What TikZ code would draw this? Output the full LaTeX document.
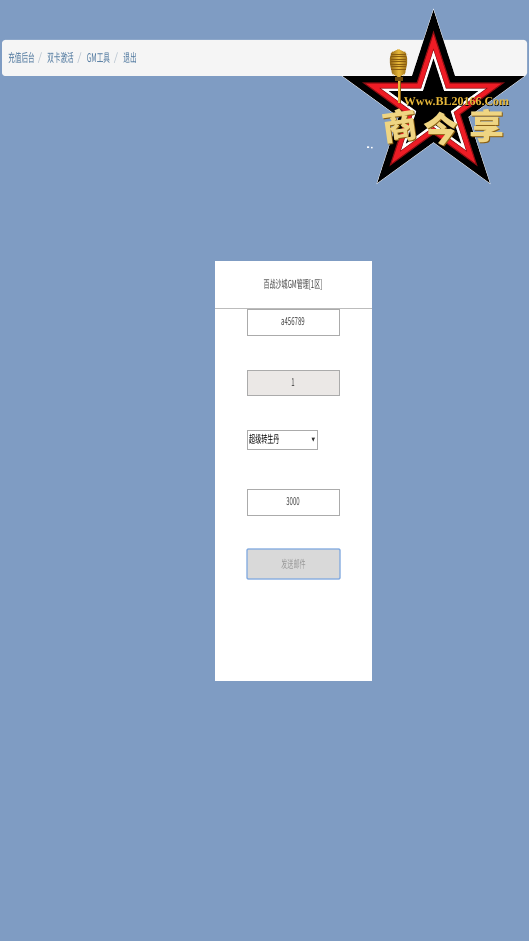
\documentclass[tikz,border=0pt]{standalone}
\usepackage{graphicx}
\usepackage{fontspec}
\setmainfont{Noto Sans CJK SC}
\newfontfamily\logofont{Liberation Serif}[BoldFont={Liberation Serif Bold}]
\usetikzlibrary{shadings,calc}
\definecolor{bgblue}{HTML}{7F9CC3}
\definecolor{barbg}{HTML}{F5F5F5}
\definecolor{linkc}{HTML}{4A749C}
\definecolor{sepc}{HTML}{B5C2CF}
\definecolor{fieldb}{HTML}{ABABAB}
\definecolor{txtc}{HTML}{444444}
\definecolor{gold}{HTML}{EFD582}
\definecolor{goldm}{HTML}{E8B93A}
\definecolor{goldd}{HTML}{8A5E10}
\definecolor{starred}{HTML}{EE1C25}
\definecolor{stardred}{HTML}{8E0E12}
\newcommand{\narrow}[2][0.55]{\scalebox{#1}[1]{#2}}
% five-pointed star of radius #2 about the star centre, fill #1 (y axis points down)
\newcommand{\logostar}[2]{%
  \fill[#1] ($(sc)+(-90:#2)$) -- ($(sc)+(-126:#2*0.382)$) -- ($(sc)+(-162:#2)$) -- ($(sc)+(-198:#2*0.382)$) -- ($(sc)+(-234:#2)$) -- ($(sc)+(-270:#2*0.382)$) -- ($(sc)+(-306:#2)$) -- ($(sc)+(-342:#2*0.382)$) -- ($(sc)+(-18:#2)$) -- ($(sc)+(-54:#2*0.382)$) -- cycle;}
\tikzset{
  crumb/.style={text=linkc,font=\fontsize{12}{12}\selectfont,inner sep=0pt,anchor=center},
  crumbsep/.style={text=sepc,font=\fontsize{11}{11}\selectfont,inner sep=0pt,anchor=center},
  field/.style={draw=fieldb,line width=0.9pt,fill=white},
  fieldtxt/.style={text=txtc,font=\fontsize{11}{11}\selectfont,inner sep=0pt,anchor=center},
  callig/.style={text=gold,font=\fontsize{35}{35}\selectfont\bfseries,inner sep=0pt,anchor=center},
}
\begin{document}
\begin{tikzpicture}[x=1pt,y=-1pt]
\useasboundingbox (0,0) rectangle (529,941);
\fill[bgblue] (0,0) rectangle (529,941);
% breadcrumb bar
\fill[barbg,rounded corners=3pt] (2,40) rectangle (527,76);
\node[crumb] (c1) at (21.5,58) {\narrow{充值后台}};
\node[crumbsep] (s1) at (40,58) {/};
\node[crumb] (c2) at (60.5,58) {\narrow{双卡激活}};
\node[crumbsep] (s2) at (79.5,58) {/};
\node[crumb] (c3) at (98.5,58) {\narrow{GM工具}};
\node[crumbsep] (s3) at (116,58) {/};
\node[crumb] (c4) at (130,58) {\narrow{退出}};
% panel
\fill[white] (215,261) rectangle (372,681);
\draw[fieldb!80,line width=0.8pt] (215,308) -- (372,308);
\node[fieldtxt] (title) at (293,284.5) {\narrow{百战沙城GM管理[1区]}};
\node[field,minimum width=92pt,minimum height=26pt,inner sep=0pt] (f1) at (293,322) {};
\node[fieldtxt] at (f1) {\narrow{a456789}};
\node[field,fill=black!8!white!98!orange,minimum width=92pt,minimum height=25pt,inner sep=0pt] (f2) at (293,382.5) {};
\node[fieldtxt] at (f2) {\narrow{1}};
\node[field,minimum width=70pt,minimum height=19pt,inner sep=0pt] (f3) at (282,439.5) {};
\node[fieldtxt,text=black,anchor=west] (f3t) at (249,439.5) {\narrow{超级转生丹}};
\fill[black!80] (311.5,437.5) -- (315,437.5) -- (313.2,441.5) -- cycle;
\node[field,minimum width=92pt,minimum height=26pt,inner sep=0pt] (f4) at (293,502) {};
\node[fieldtxt] at (f4) {\narrow{3000}};
\node[draw={rgb,255:red,127;green,168;blue,224},line width=1.2pt,fill=black!15,minimum width=93pt,minimum height=30pt,inner sep=0pt,rounded corners=1pt] (btn) at (293.5,564) {};
\node[fieldtxt,text=black!40] at (btn) {\narrow{发送邮件}};
% logo star
\coordinate (sc) at (433.5,105.6);
\logostar{white}{97}
\logostar{black}{95.6}
\logostar{stardred}{75}
\logostar{starred}{71}
\logostar{stardred}{57}
\logostar{white}{55}
\logostar{black}{47}
% microphone
\fill[goldd] (397.6,76) rectangle (400.6,103);
\fill[goldm] (398.2,76) rectangle (399.6,103);
\shade[left color=goldd,right color=goldd,middle color=goldm,rounded corners=6pt] (389,56) -- (394,49.5) -- (403,49.5) -- (408,56) -- (406,71) -- (403,77) -- (394,77) -- (391,71) -- cycle;
\foreach \yy in {54,56.5,...,70}{\draw[goldd,line width=0.5pt] (391,\yy) -- (406,\yy);}
\fill[goldd!80!black] (395,77) rectangle (403,81);
% logo text
\node[inner sep=0pt,text=black,font=\logofont\bfseries\fontsize{12}{12}\selectfont] (urlb) at (457,102.6) {Www.BL20166.Com};
\node[inner sep=0pt,text=goldm,font=\logofont\bfseries\fontsize{12}{12}\selectfont] (url) at (456.5,102) {Www.BL20166.Com};
\node[callig,text=goldd] (k1s) at (400.7,126.7) {\rotatebox{8}{商}};
\node[callig] (k1) at (400,126) {\rotatebox{8}{商}};
\node[callig,text=goldd] (k2s) at (441.7,129.7) {今};
\node[callig] (k2) at (441,129) {今};
\node[callig,text=goldd] (k3s) at (487.7,126.7) {享};
\node[callig] (k3) at (487,126) {享};
\fill[white] (367,146.5) rectangle (369,148) (371,147) rectangle (372.5,148.5);
\end{tikzpicture}
\end{document}
